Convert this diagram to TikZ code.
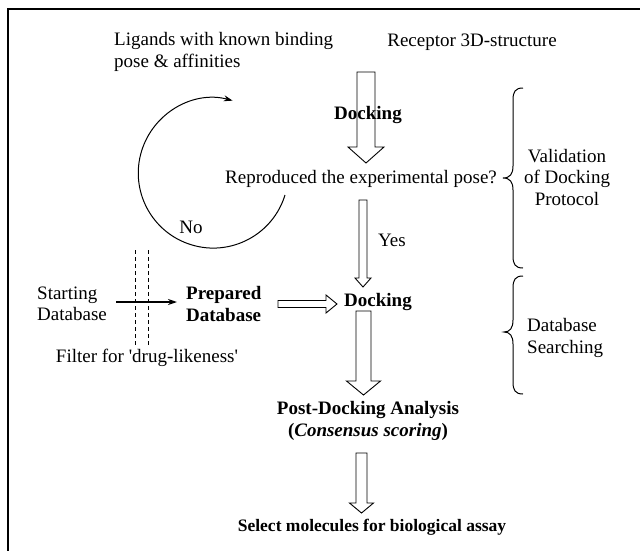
\documentclass[tikz,border=0pt]{standalone}
\usepackage{fontspec}
\setmainfont{Liberation Serif}
\usetikzlibrary{arrows.meta}
\newcommand\hdown[6]{%
  \draw[hollow] (#1-#5,#2) -- (#1+#5,#2) -- (#1+#5,#3) -- (#1+#6,#3) -- (#1,#4)
    -- (#1-#6,#3) -- (#1-#5,#3) -- cycle;}
\begin{document}
\begin{tikzpicture}[x=1pt,y=-1pt,
  font=\fontsize{19}{21.5}\selectfont,
  txt/.style={inner sep=0pt, align=center},
  txtl/.style={inner sep=0pt, align=left, anchor=west},
  bld/.style={font=\fontsize{19}{21.5}\selectfont\bfseries},
  hollow/.style={draw, line width=0.9pt, fill=white},
  thinline/.style={line width=1pt},
  bracepath/.style={line width=1pt}]
\useasboundingbox (0,0) rectangle (640,551);
\draw[line width=1.5pt] (8,551) -- (8,9) -- (640,9);

% hollow arrows
\hdown{366}{72}{147}{163}{9}{18}
\hdown{363}{200}{278}{287}{4}{8}
\hdown{363.5}{311}{381}{395}{7.5}{17}
\hdown{361.5}{453}{503}{513}{5.5}{12}
\draw[hollow] (278,300.5) -- (326,300.5) -- (326,295) -- (337,304) -- (326,313)
  -- (326,307.5) -- (278,307.5) -- cycle;

% texts
\node[txtl] (lig) at (114,52) {Ligands with known binding\\pose \& affinities};
\node[txt] (rec) at (472,42) {Receptor 3D-structure};
\node[txt, bld] (dock1) at (368,115) {Docking};
\node[txt] (repro) at (361,179) {Reproduced the experimental pose?};
\node[txt] (no) at (191,227) {No};
\node[txt] (yes) at (392,240) {Yes};
\node[txtl] (start) at (37,304) {Starting\\Database};
\node[txtl, bld] (prep) at (186,304) {Prepared\\Database};
\node[txt, bld] (dock2) at (378,302) {Docking};
\node[txt] (filter) at (147,358) {Filter for \textquotesingle drug-likeness\textquotesingle};
\node[txt, bld] (post) at (368,421)
  {Post-Docking Analysis\\(\textit{Consensus scoring})};
\node[txt, font=\fontsize{17.5}{20}\selectfont\bfseries] (select) at (372,527)
  {Select molecules for biological assay};
\node[txt] (valid) at (567,177) {Validation\\of Docking\\Protocol};
\node[txtl] (dbs) at (527,338) {Database\\Searching};

% loop arrow (No)
\coordinate (loopstart) at (285,195);
\draw[thinline, -{Stealth[length=9pt,width=6pt]}] (loopstart)
  arc[start angle=17, end angle=285, radius=75];

% filter arrow and dashed filter
\coordinate (fa) at (116,302);
\coordinate (fb) at (177,302);
\draw[line width=1.3pt, -{Stealth[length=9pt,width=6pt]}] (fa) -- (fb);
\draw[thinline, dash pattern=on 4pt off 3pt] (135,250) -- (135,347);
\draw[thinline, dash pattern=on 4pt off 3pt] (148,250) -- (148,347);

% braces
\draw[bracepath] (523,88) .. controls (515,88) and (513,92) .. (513,100) -- (513,166)
  .. controls (513,174) and (510,178) .. (503,178)
  .. controls (510,178) and (513,182) .. (513,190) -- (513,256)
  .. controls (513,264) and (515,268) .. (523,268);
\draw[bracepath] (523,276) .. controls (515,276) and (513,280) .. (513,288) -- (513,320)
  .. controls (513,328) and (510,332) .. (504,332)
  .. controls (510,332) and (513,336) .. (513,344) -- (513,382)
  .. controls (513,390) and (515,394) .. (523,394);
\end{tikzpicture}
\end{document}
